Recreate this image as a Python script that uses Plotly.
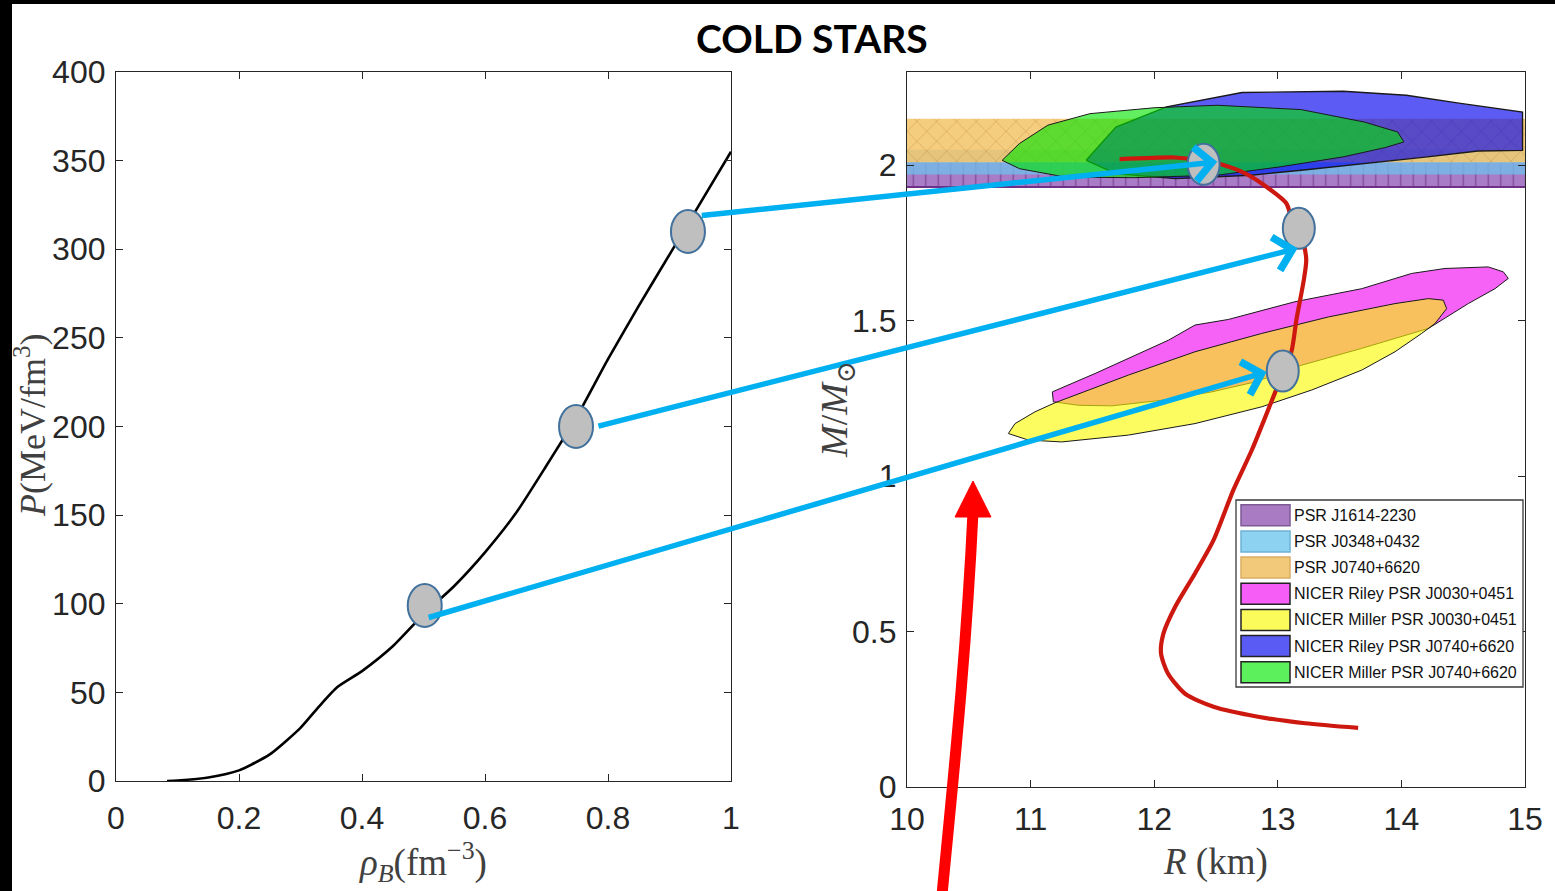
import plotly.graph_objects as go

W, H = 1555, 891

# ---------------- equation of state (left panel) ----------------
rho_B = [0.083, 0.10, 0.15, 0.20, 0.25, 0.30, 0.33, 0.36, 0.40, 0.45, 0.50,
         0.55, 0.60, 0.65, 0.70, 0.75, 0.80, 0.85, 0.90, 0.95, 1.00]
pressure = [0.0, 0.3, 2.0, 6.0, 15.0, 30.0, 42.0, 53.0, 62.0, 76.0, 94.0,
            110.0, 129.0, 151.0, 178.0, 206.0, 238.0, 268.0, 297.0, 326.0, 355.0]

# highlighted EOS points
eos_pt_rho = [0.930, 0.748, 0.502]
eos_pt_P = [310.0, 200.0, 99.0]

# ---------------- mass-radius relation (right panel) ----------------
radius_km = [13.65, 13.22, 12.84, 12.48, 12.25, 12.11, 12.055, 12.075, 12.17,
             12.33, 12.48, 12.64, 12.79, 12.98, 13.11, 13.15, 13.21, 13.23,
             13.20, 13.11, 13.07, 12.91, 12.74, 12.54, 12.40, 12.30, 12.17, 11.72]
mass_msun = [0.19, 0.205, 0.226, 0.258, 0.30, 0.366, 0.43, 0.494, 0.58,
             0.687, 0.794, 0.955, 1.084, 1.271, 1.40, 1.502, 1.63, 1.695,
             1.76, 1.83, 1.877, 1.93, 1.973, 2.003, 2.015, 2.02, 2.025, 2.02]

# stars matching the highlighted EOS points
star_R = [12.40, 13.17, 13.04]
star_M = [2.003, 1.797, 1.338]

# arrows EOS point -> star (tail in rho/P, head in R/M)
arrow_from_rho = [0.950, 0.782, 0.506]
arrow_from_P = [319.0, 200.0, 92.0]
arrow_to_R = [12.51, 13.16, 12.91]
arrow_to_M = [2.011, 1.733, 1.335]

# pulsar mass bands (lower, upper) in solar masses
band_names = ["PSR J1614-2230", "PSR J0348+0432", "PSR J0740+6620"]
band_lo = [1.93, 1.97, 2.01]
band_hi = [2.01, 2.05, 2.15]

# NICER 68% credible regions (R in km, M in Msun)
riley_j0030_R = [11.184, 11.176, 11.521, 11.845, 12.114, 12.330, 12.600, 13.139,
                 13.679, 14.083, 14.353, 14.703, 14.825, 14.865, 14.757, 14.541,
                 14.353, 14.218, 13.679, 13.193, 12.816, 12.465, 12.060, 11.656,
                 11.386]
riley_j0030_M = [1.239, 1.271, 1.330, 1.389, 1.437, 1.486, 1.504, 1.561,
                 1.603, 1.652, 1.668, 1.673, 1.657, 1.636, 1.603, 1.555,
                 1.507, 1.475, 1.411, 1.357, 1.303, 1.271, 1.244, 1.226,
                 1.228]

miller_j0030_R = [10.820, 10.874, 11.036, 11.197, 11.791, 12.330, 12.870, 13.409,
                  13.948, 14.218, 14.339, 14.366, 14.272, 14.164, 13.948, 13.679,
                  13.274, 12.870, 12.330, 11.791, 11.252, 10.982]
miller_j0030_M = [1.137, 1.169, 1.207, 1.236, 1.325, 1.400, 1.459, 1.512,
                  1.555, 1.571, 1.566, 1.539, 1.491, 1.459, 1.400, 1.341,
                  1.277, 1.223, 1.169, 1.132, 1.110, 1.116]

riley_j0740_R = [11.45, 11.69, 12.10, 12.71, 13.53, 14.04, 14.48, 14.98,
                 14.98, 14.62, 14.21, 13.70, 13.19, 12.78, 12.17, 11.69]
riley_j0740_M = [2.016, 2.123, 2.188, 2.234, 2.238, 2.225, 2.199, 2.171,
                 2.048, 2.046, 2.027, 2.005, 1.984, 1.968, 1.957, 1.973]

miller_j0740_R = [10.77, 10.91, 11.14, 11.48, 12.00, 12.51, 13.19, 13.70,
                  13.97, 14.02, 13.87, 13.53, 13.02, 12.51, 11.83, 11.28, 10.91]
miller_j0740_M = [2.016, 2.070, 2.129, 2.166, 2.185, 2.193, 2.179, 2.139,
                  2.107, 2.075, 2.057, 2.027, 1.995, 1.968, 1.960, 1.962, 1.989]

legend_names = ["PSR J1614-2230", "PSR J0348+0432", "PSR J0740+6620",
                "NICER Riley PSR J0030+0451", "NICER Miller PSR J0030+0451",
                "NICER Riley PSR J0740+6620", "NICER Miller PSR J0740+6620"]

# ---------------- layout geometry (pixels) ----------------
L_X0, L_X1, L_Y0, L_Y1 = 116, 731, 72, 781      # left axes box
R_X0, R_X1, R_Y0, R_Y1 = 907, 1525, 72, 787     # right axes box
L_XR, L_YR = [0, 1], [0, 400]
R_XR, R_YR = [10, 15], [0, 2.3]


def paper_x(px):
    return px / W


def paper_y(py):
    return 1 - py / H


def data_to_px(v, rng, p0, p1):
    return p0 + (v - rng[0]) / (rng[1] - rng[0]) * (p1 - p0)


SANS = "Liberation Sans, Arial, sans-serif"
TICK_FONT = dict(family=SANS, size=32, color="#262626")
SERIF = "Liberation Serif, DejaVu Serif, serif"
AX_COL = "#262626"

fig = go.Figure()

# ---- left panel: P(rho_B)
fig.add_trace(go.Scatter(x=rho_B, y=pressure, mode="lines",
                         line=dict(color="black", width=2.6, shape="spline", smoothing=0.6),
                         xaxis="x", yaxis="y", hoverinfo="skip"))

# ---- right panel: mass bands
band_fill = ["rgba(140,80,180,0.75)", "rgba(114,188,234,0.80)", "rgba(243,197,103,0.85)"]
band_pattern = [
    dict(shape="|", size=12.5, solidity=0.12, fgcolor="#7a3f93", fgopacity=0.8,
         bgcolor="rgba(140,80,180,0.75)", fillmode="replace"),
    None,
    dict(shape="x", size=14, solidity=0.08, fgcolor="#c9934a", fgopacity=0.8,
         bgcolor="rgba(243,197,103,0.85)", fillmode="replace"),
]
for lo, hi, fc, pat in zip(band_lo, band_hi, band_fill, band_pattern):
    kw = dict(x=[R_XR[0], R_XR[1], R_XR[1], R_XR[0], R_XR[0]],
              y=[lo, lo, hi, hi, lo], mode="lines", fill="toself",
              fillcolor=fc, line=dict(width=0), xaxis="x2", yaxis="y2",
              hoverinfo="skip")
    if pat is not None:
        kw["fillpattern"] = pat
    fig.add_trace(go.Scatter(**kw))

# lower edge of the J1614 band
fig.add_trace(go.Scatter(x=R_XR, y=[band_lo[0], band_lo[0]], mode="lines",
                         line=dict(color="#6e2f86", width=2.2),
                         xaxis="x2", yaxis="y2", hoverinfo="skip"))

# ---- NICER regions (translucent so overlaps blend)
regions = [
    (riley_j0030_R, riley_j0030_M, "rgba(240,0,240,0.62)", 1.0),
    (miller_j0030_R, miller_j0030_M, "rgba(250,250,0,0.62)", 1.0),
    (riley_j0740_R, riley_j0740_M, "rgba(0,0,240,0.64)", 1.4),
    (miller_j0740_R, miller_j0740_M, "rgba(0,228,0,0.62)", 1.0),
]
for rr, mm, fc, lw in regions:
    fig.add_trace(go.Scatter(x=rr + rr[:1], y=mm + mm[:1], mode="lines", fill="toself",
                             fillcolor=fc, line=dict(color="#1a1a1a", width=lw),
                             xaxis="x2", yaxis="y2", hoverinfo="skip"))

# ---- M(R) curve
fig.add_trace(go.Scatter(x=radius_km, y=mass_msun, mode="lines",
                         line=dict(color="#CD1810", width=4.2, shape="spline", smoothing=0.7),
                         xaxis="x2", yaxis="y2", hoverinfo="skip"))

shapes = []
annotations = []

# ---- grey ellipses on highlighted points
ELL_W, ELL_H = 34, 43
for xv, yv in zip(eos_pt_rho, eos_pt_P):
    shapes.append(dict(type="circle", xref="x", yref="y", xsizemode="pixel", ysizemode="pixel",
                       xanchor=xv, yanchor=yv, x0=-ELL_W / 2, x1=ELL_W / 2,
                       y0=-ELL_H / 2, y1=ELL_H / 2, fillcolor="#BFBFBF",
                       line=dict(color="#41719C", width=2), layer="above"))
for xv, yv in zip(star_R, star_M):
    shapes.append(dict(type="circle", xref="x2", yref="y2", xsizemode="pixel", ysizemode="pixel",
                       xanchor=xv, yanchor=yv, x0=-16, x1=16, y0=-20.5, y1=20.5,
                       fillcolor="#BFBFBF", line=dict(color="#41719C", width=2), layer="above"))

# ---- cyan arrows linking EOS points to stars
for r0, p0, r1, m1 in zip(arrow_from_rho, arrow_from_P, arrow_to_R, arrow_to_M):
    tx = data_to_px(r0, L_XR, L_X0, L_X1)
    ty = data_to_px(p0, L_YR, L_Y1, L_Y0)
    hx = data_to_px(r1, R_XR, R_X0, R_X1)
    hy = data_to_px(m1, R_YR, R_Y1, R_Y0)
    annotations.append(dict(x=paper_x(hx), y=paper_y(hy), xref="paper", yref="paper",
                            ax=tx - hx, ay=ty - hy, axref="pixel", ayref="pixel",
                            showarrow=True, arrowhead=4, arrowsize=1.2, arrowwidth=5.5,
                            arrowcolor="#00B0F0", text="", standoff=0, startstandoff=0))

# ---- big red arrow
def pp(x, y):
    return f"{paper_x(x):.5f},{paper_y(y):.5f}"


shapes.append(dict(type="path", xref="paper", yref="paper",
                   path=f"M{pp(942, 895)} C{pp(952, 790)} {pp(966, 660)} {pp(973, 512)}",
                   line=dict(color="#FF0000", width=11), layer="above"))
shapes.append(dict(type="path", xref="paper", yref="paper",
                   path=f"M{pp(955, 517)} L{pp(991, 517)} L{pp(973, 481)} Z",
                   fillcolor="#FF0000", line=dict(color="#FF0000", width=1), layer="above"))

# ---- legend box (right panel)
LEG_X0, LEG_X1, LEG_Y0, LEG_Y1 = 1236, 1523, 500, 687
shapes.append(dict(type="rect", xref="paper", yref="paper",
                   x0=paper_x(LEG_X0), x1=paper_x(LEG_X1), y0=paper_y(LEG_Y1), y1=paper_y(LEG_Y0),
                   fillcolor="white", line=dict(color="#3a3a3a", width=1.3), layer="above"))
sw_fill = ["#A97BC2", "#8DD2F0", "#F2C87A", "#F65CF6", "#FBFB5C", "#5A5AF5", "#5CF05C"]
sw_line = ["#7E5A95", "#6FB3D2", "#D9AE62", "#222222", "#222222", "#222222", "#222222"]
for i, (name, fc, lc) in enumerate(zip(legend_names, sw_fill, sw_line)):
    cy = 515.3 + i * 26.15
    shapes.append(dict(type="rect", xref="paper", yref="paper",
                       x0=paper_x(1241), x1=paper_x(1290), y0=paper_y(cy + 10.5), y1=paper_y(cy - 10.5),
                       fillcolor=fc, line=dict(color=lc, width=1.5), layer="above"))
    annotations.append(dict(x=paper_x(1292), y=paper_y(cy), xref="paper", yref="paper",
                            text=name, showarrow=False, xanchor="left", yanchor="middle",
                            font=dict(family=SANS, size=16, color="#111111")))

# ---- frame strips
shapes.append(dict(type="rect", xref="paper", yref="paper", x0=0, x1=1,
                   y0=paper_y(4), y1=1, fillcolor="black", line=dict(width=0), layer="above"))
shapes.append(dict(type="rect", xref="paper", yref="paper", x0=0, x1=paper_x(12),
                   y0=0, y1=1, fillcolor="black", line=dict(width=0), layer="above"))

# ---- titles and axis labels
def label(x, y, text, size, family, color, angle=0):
    return dict(x=paper_x(x), y=paper_y(y), xref="paper", yref="paper", text=text,
                showarrow=False, xanchor="center", yanchor="middle", textangle=angle,
                font=dict(family=family, size=size, color=color))


annotations.append(label(812, 38, "<b>COLD STARS</b>", 39, "Lato, Open Sans, sans-serif", "black"))
annotations.append(label(31, 425, "<i>P</i>(MeV/fm<sup>3</sup>)", 36, SERIF, "#404040", -90))
annotations.append(label(423, 862, "<i>ρ<sub>B</sub></i>(fm<sup>−3</sup>)", 37, SERIF, "#404040"))
annotations.append(label(837, 410, "<i>M</i>/<i>M</i><sub>⊙</sub>", 38, SERIF, "#404040", -90))
annotations.append(label(1215, 862, "<i>R</i> (km)", 37, SERIF, "#404040"))

axis_common = dict(showgrid=False, zeroline=False, showline=True, linecolor=AX_COL,
                   linewidth=1.2, mirror="allticks", ticks="inside", ticklen=7,
                   tickwidth=1.2, tickcolor=AX_COL, tickfont=TICK_FONT, automargin=False)

fig.update_layout(
    width=W, height=H, margin=dict(l=0, r=0, t=0, b=0, pad=0, autoexpand=False),
    autosize=False,
    paper_bgcolor="white", plot_bgcolor="white", showlegend=False,
    xaxis=dict(domain=[paper_x(L_X0), paper_x(L_X1)], range=L_XR, anchor="y",
               tickvals=[0, 0.2, 0.4, 0.6, 0.8, 1.0], ticklabelstandoff=8,
               ticktext=["0", "0.2", "0.4", "0.6", "0.8", "1"], **axis_common),
    yaxis=dict(domain=[paper_y(L_Y1), paper_y(L_Y0)], range=L_YR, anchor="x",
               tickvals=list(range(0, 401, 50)), ticklabelstandoff=3, **axis_common),
    xaxis2=dict(domain=[paper_x(R_X0), paper_x(R_X1)], range=R_XR, anchor="y2",
                tickvals=[10, 11, 12, 13, 14, 15], ticklabelstandoff=3, **axis_common),
    yaxis2=dict(domain=[paper_y(R_Y1), paper_y(R_Y0)], range=R_YR, anchor="x2",
                tickvals=[0, 0.5, 1, 1.5, 2], ticktext=["0", "0.5", "1", "1.5", "2"],
                ticklabelstandoff=3, **axis_common),
    shapes=shapes, annotations=annotations,
)

fig.write_html("out.html")
